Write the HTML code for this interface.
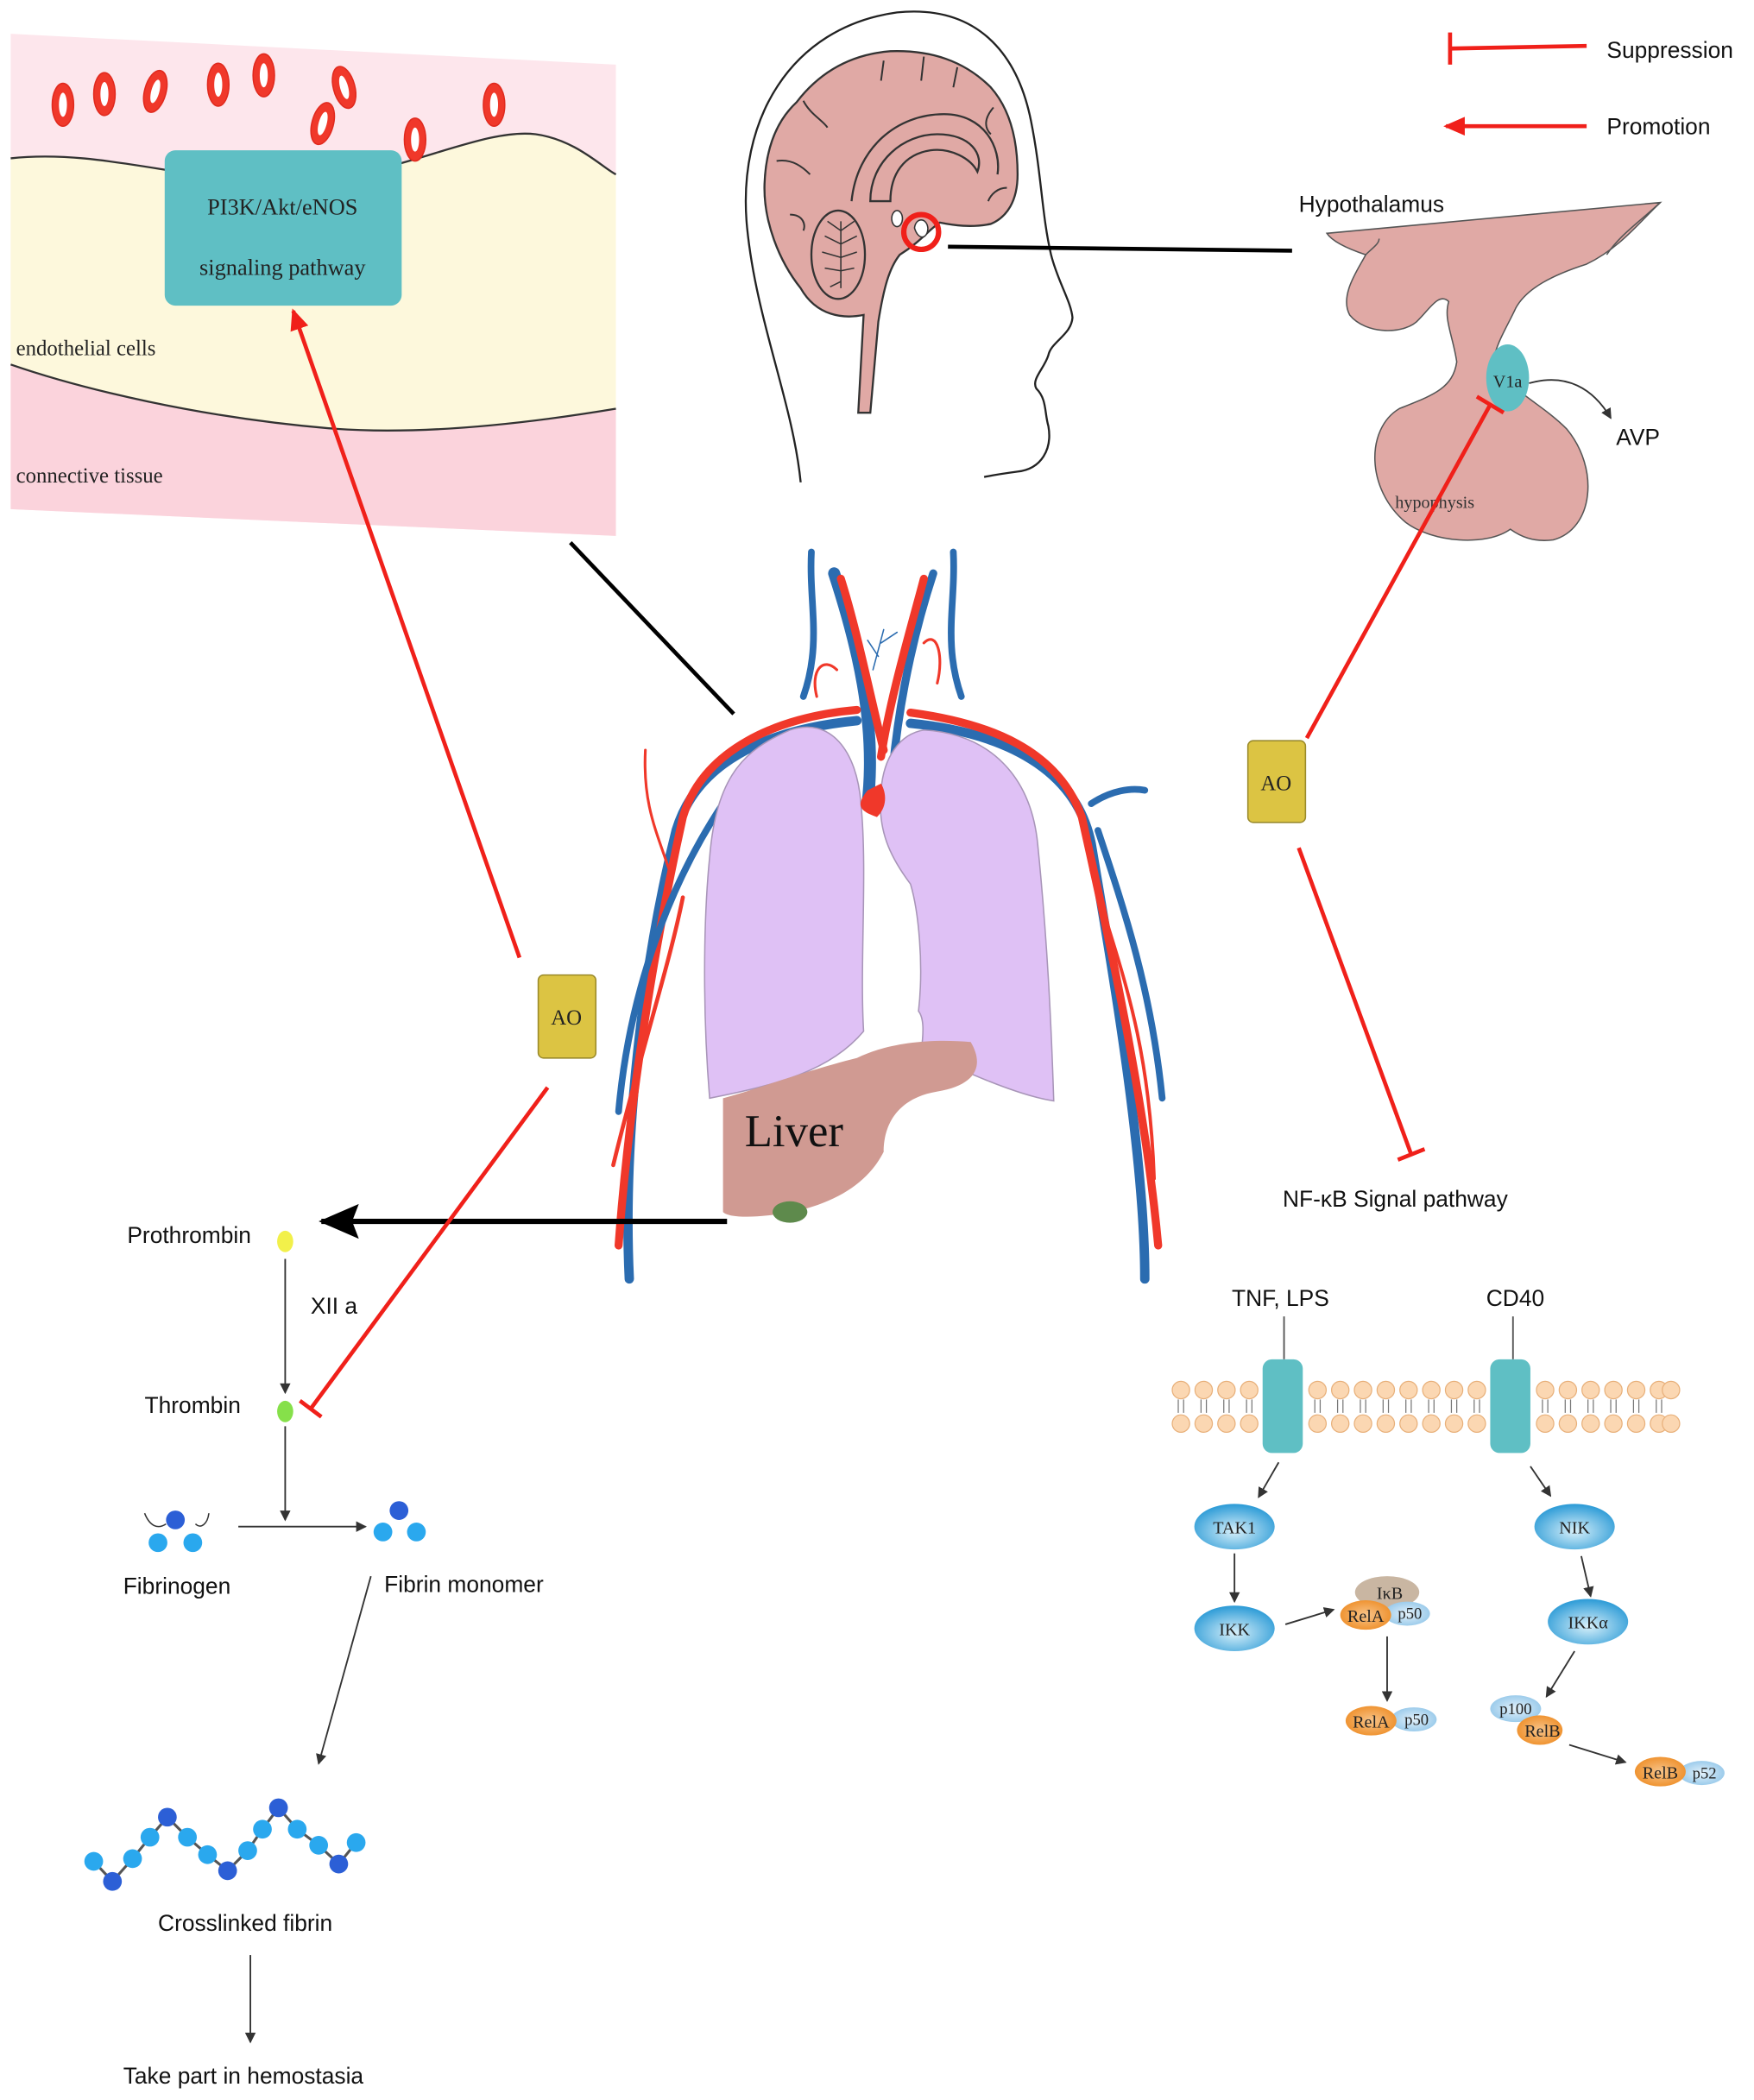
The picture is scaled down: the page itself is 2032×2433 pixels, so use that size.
<!DOCTYPE html>
<html><head><meta charset="utf-8"><style>
html,body{margin:0;padding:0;background:#fff;}
svg{display:block;}
text{font-family:"Liberation Sans",sans-serif;}
.s{font-family:"Liberation Serif",serif;}
</style></head><body>
<svg width="2032" height="2433" viewBox="0 0 1310 1568" xmlns="http://www.w3.org/2000/svg">
<defs>
<marker id="ar" markerWidth="8" markerHeight="8" refX="7" refY="4" orient="auto" markerUnits="userSpaceOnUse"><path d="M0,0 L8,4 L0,8 z" fill="#333"/></marker>
<marker id="arR" markerWidth="16" markerHeight="14" refX="14" refY="7" orient="auto" markerUnits="userSpaceOnUse"><path d="M0,0 L16,7 L0,14 z" fill="#f0201a"/></marker>
<marker id="arB" markerWidth="30" markerHeight="26" refX="28" refY="13" orient="auto" markerUnits="userSpaceOnUse"><path d="M0,0 L30,13 L0,26 L5,13 z" fill="#000"/></marker>
<radialGradient id="bl" cx="50%" cy="60%" r="60%"><stop offset="0" stop-color="#d8f0fa"/><stop offset="1" stop-color="#2a9ad6"/></radialGradient>
<radialGradient id="or" cx="50%" cy="50%" r="60%"><stop offset="0" stop-color="#f7c48a"/><stop offset="1" stop-color="#ee8a20"/></radialGradient>
<radialGradient id="lb" cx="50%" cy="50%" r="60%"><stop offset="0" stop-color="#e4f2fb"/><stop offset="1" stop-color="#8ec4e8"/></radialGradient>
</defs>

<!-- top-left tissue panel -->
<path d="M8,25 L460,48 L460,400 L8,380 Z" fill="#fde6ec"/>
<path d="M8,118 C80,110 150,140 230,135 C300,130 360,95 400,100 C430,104 450,125 460,130 L460,305 C400,315 320,325 250,320 C150,312 60,290 8,272 Z" fill="#fdf8dc"/>
<path d="M8,118 C80,110 150,140 230,135 C300,130 360,95 400,100 C430,104 450,125 460,130" fill="none" stroke="#333" stroke-width="1.5"/>
<path d="M8,272 C60,290 150,312 250,320 C320,325 400,315 460,305 L460,400 L8,380 Z" fill="#fbd3dc"/>
<path d="M8,272 C60,290 150,312 250,320 C320,325 400,315 460,305" fill="none" stroke="#333" stroke-width="1.5"/>
<g fill="#f0382a" stroke="#e02a1e">
<ellipse cx="47" cy="78" rx="8" ry="16"/><ellipse cx="78" cy="70" rx="8" ry="16"/><ellipse cx="116" cy="68" rx="8" ry="16" transform="rotate(15 116 68)"/><ellipse cx="163" cy="63" rx="8" ry="16"/><ellipse cx="197" cy="56" rx="8" ry="16"/><ellipse cx="257" cy="65" rx="8" ry="16" transform="rotate(-15 257 65)"/><ellipse cx="241" cy="92" rx="8" ry="16" transform="rotate(15 241 92)"/><ellipse cx="310" cy="104" rx="8" ry="16"/><ellipse cx="369" cy="78" rx="8" ry="16"/>
</g>
<g fill="#fff">
<ellipse cx="47" cy="78" rx="3" ry="9"/><ellipse cx="78" cy="70" rx="3" ry="9"/><ellipse cx="116" cy="68" rx="3" ry="9" transform="rotate(15 116 68)"/><ellipse cx="163" cy="63" rx="3" ry="9"/><ellipse cx="197" cy="56" rx="3" ry="9"/><ellipse cx="257" cy="65" rx="3" ry="9" transform="rotate(-15 257 65)"/><ellipse cx="241" cy="92" rx="3" ry="9" transform="rotate(15 241 92)"/><ellipse cx="310" cy="104" rx="3" ry="9"/><ellipse cx="369" cy="78" rx="3" ry="9"/>
</g>
<rect x="123" y="112" width="177" height="116" rx="8" fill="#5fbfc4"/>
<text x="211" y="160" class="s" font-size="17" text-anchor="middle" fill="#222">PI3K/Akt/eNOS</text>
<text x="211" y="205" class="s" font-size="17" text-anchor="middle" fill="#222">signaling pathway</text>
<text x="12" y="265" class="s" font-size="16" fill="#222">endothelial cells</text>
<text x="12" y="360" class="s" font-size="16" fill="#222">connective tissue</text>

<!-- head -->
<path d="M598,360 C592,300 565,240 558,170 C550,90 590,20 670,9 C730,3 760,40 770,90 C778,130 778,160 785,190 C790,210 800,225 801,237 C800,250 785,255 783,265 C780,275 770,283 774,290 C782,298 780,308 783,318 C786,335 778,350 760,352 C745,354 735,356 735,356" fill="none" stroke="#222" stroke-width="1.5"/>
<!-- brain -->
<path d="M650,308 L641,308 L645,235 C630,238 610,236 598,215 C582,195 570,165 571,137 C572,110 580,90 595,76 C615,50 640,40 665,38 C695,37 720,45 740,65 C755,82 760,105 760,130 C760,150 752,162 740,167 C725,170 712,168 702,166 C695,170 688,180 672,190 C664,200 660,215 656,240 Z" fill="#e0a9a5" stroke="#333" stroke-width="1.5"/>
<ellipse cx="626" cy="190" rx="20" ry="33" fill="#e0a9a5" stroke="#333" stroke-width="1.5"/>
<path d="M628,165 L628,215 M628,172 L618,165 M628,172 L638,165 M628,182 L616,176 M628,182 L640,176 M628,192 L614,188 M628,192 L640,188 M628,202 L616,200 M628,202 L638,200 M628,210 L620,214" stroke="#333" stroke-width="1" fill="none"/>
<path d="M636,150 C640,110 670,85 705,85 C735,85 748,110 745,130 M650,150 C650,120 675,100 700,100 C725,100 735,115 730,128 C725,118 710,110 695,112 C675,115 665,130 665,150 Z" fill="none" stroke="#333" stroke-width="1.5"/>
<path d="M660,45 L658,60 M690,42 L688,60 M715,50 L712,65 M600,75 C605,85 615,90 618,95 M580,120 C592,118 600,125 605,130 M742,80 C735,88 735,95 740,100 M752,140 C745,140 740,145 738,150 M590,160 C600,160 602,168 600,172" fill="none" stroke="#333" stroke-width="1.3"/>
<ellipse cx="670" cy="163" rx="4" ry="6" fill="#fff" stroke="#333"/>
<circle cx="688" cy="173" r="13" fill="none" stroke="#f0201a" stroke-width="4"/>
<path d="M683,170 C684,162 692,162 693,170 C693,178 686,180 683,170 Z" fill="#fff" stroke="#333"/>
<line x1="708" y1="184" x2="965" y2="187" stroke="#000" stroke-width="3"/>

<!-- hypothalamus / pituitary -->
<text x="970" y="158" font-size="17" fill="#111">Hypothalamus</text>
<path d="M991,174 L1240,151 C1225,165 1210,185 1185,197 C1160,205 1140,215 1132,230 C1125,245 1118,255 1115,270 C1125,290 1150,300 1170,320 C1195,350 1190,395 1160,403 C1145,405 1135,400 1128,395 C1110,408 1070,405 1050,390 C1020,365 1020,320 1045,305 C1070,295 1085,290 1088,270 C1085,250 1078,238 1082,225 C1075,218 1068,230 1060,238 C1050,250 1020,250 1008,235 C1000,220 1015,200 1020,190 C1005,185 995,180 991,174 Z" fill="#e0a9a5" stroke="#555" stroke-width="1"/>
<path d="M1020,190 C1025,185 1030,182 1030,178 M1200,190 C1210,175 1225,165 1240,151" fill="none" stroke="#555"/>
<ellipse cx="1126" cy="282" rx="16" ry="25" fill="#5fbfc4"/>
<text x="1126" y="289" class="s" font-size="13" text-anchor="middle" fill="#222">V1a</text>
<path d="M1142,286 C1170,278 1190,290 1203,312" fill="none" stroke="#333" stroke-width="1.2" marker-end="url(#ar)"/>
<text x="1207" y="332" font-size="17" fill="#111">AVP</text>
<text x="1042" y="379" class="s" font-size="13" fill="#333">hypophysis</text>

<!-- legend -->
<line x1="1083" y1="36" x2="1185" y2="34" stroke="#f0201a" stroke-width="3"/>
<line x1="1083" y1="24" x2="1083" y2="48" stroke="#f0201a" stroke-width="3"/>
<text x="1200" y="43" font-size="17" fill="#111">Suppression</text>
<line x1="1185" y1="94" x2="1080" y2="94" stroke="#f0201a" stroke-width="3" marker-end="url(#arR)"/>
<text x="1200" y="100" font-size="17" fill="#111">Promotion</text>

<!-- right AO -->
<rect x="932" y="553" width="43" height="61" rx="4" fill="#dcc443" stroke="#9a8a2a"/>
<text x="953" y="590" class="s" font-size="16" text-anchor="middle" fill="#222">AO</text>
<line x1="976" y1="551" x2="1113" y2="302" stroke="#f0201a" stroke-width="3"/>
<line x1="1103" y1="296" x2="1123" y2="308" stroke="#f0201a" stroke-width="3"/>
<line x1="970" y1="633" x2="1054" y2="862" stroke="#f0201a" stroke-width="3"/>
<line x1="1044" y1="866" x2="1064" y2="858" stroke="#f0201a" stroke-width="3"/>
<text x="958" y="901" font-size="17" fill="#111">NF-κB Signal pathway</text>

<!-- thorax vessels -->
<g fill="none" stroke-linecap="round">
<path d="M606,412 C604,450 614,480 600,520" stroke="#2b6cb0" stroke-width="5"/>
<path d="M712,412 C714,450 704,480 718,520" stroke="#2b6cb0" stroke-width="5"/>
<path d="M623,428 C640,480 655,540 648,600" stroke="#2b6cb0" stroke-width="9"/>
<path d="M697,428 C680,480 668,540 665,600" stroke="#2b6cb0" stroke-width="6"/>
<path d="M628,432 C640,470 650,520 660,560" stroke="#f0382a" stroke-width="6"/>
<path d="M690,432 C680,470 665,520 658,565" stroke="#f0382a" stroke-width="6"/>
<path d="M610,520 C605,500 615,490 625,500 M690,480 C700,470 705,490 700,510" stroke="#f0382a" stroke-width="2"/>
<path d="M470,955 C465,850 480,720 505,620 C520,570 570,545 640,538" stroke="#2b6cb0" stroke-width="7"/>
<path d="M462,930 C470,820 490,700 510,610 C525,560 580,535 640,530" stroke="#f0382a" stroke-width="6"/>
<path d="M462,830 C470,740 500,660 540,600" stroke="#2b6cb0" stroke-width="5"/>
<path d="M458,870 C480,780 500,720 510,670" stroke="#f0382a" stroke-width="3"/>
<path d="M500,650 C490,620 480,600 482,560" stroke="#f0382a" stroke-width="2"/>
<path d="M855,955 C855,860 830,720 815,630 C805,580 760,548 680,540" stroke="#2b6cb0" stroke-width="7"/>
<path d="M865,930 C855,820 828,700 808,610 C790,560 740,540 680,532" stroke="#f0382a" stroke-width="6"/>
<path d="M868,820 C860,740 840,680 820,620 M815,600 C830,590 845,588 855,590" stroke="#2b6cb0" stroke-width="5"/>
<path d="M815,650 C835,720 858,770 862,880" stroke="#f0382a" stroke-width="2.5"/>
<path d="M652,500 L660,470 M656,490 L648,478 M658,480 L670,472" stroke="#2b6cb0" stroke-width="1"/>
</g>
<!-- lungs -->
<path d="M590,545 C620,535 640,560 643,600 C648,650 642,720 645,770 C620,800 580,810 530,820 C525,760 525,690 530,640 C535,580 555,560 590,545 Z" fill="#dfc1f5" stroke="#a895b8" stroke-width="1"/>
<path d="M690,545 C740,548 770,580 775,630 C782,700 785,760 787,822 C760,818 720,800 688,785 C690,770 690,760 686,755 C690,720 686,680 680,660 C665,640 655,620 658,590 C660,565 672,548 690,545 Z" fill="#dfc1f5" stroke="#a895b8" stroke-width="1"/>
<path d="M648,590 C640,600 640,605 655,610 C665,600 660,588 658,585 Z" fill="#f0382a"/>
<!-- liver -->
<path d="M540,820 C560,815 600,800 640,790 C660,780 690,775 725,778 C735,795 730,810 700,815 C670,820 660,840 660,860 C650,880 630,895 600,903 C570,910 545,910 540,905 Z" fill="#d09a92"/>
<ellipse cx="590" cy="905" rx="13" ry="8" fill="#5e8a4c"/>
<text x="593" y="856" class="s" font-size="34" text-anchor="middle" fill="#111">Liver</text>

<!-- left connectors -->
<line x1="426" y1="405" x2="548" y2="533" stroke="#000" stroke-width="3"/>
<line x1="543" y1="912" x2="240" y2="912" stroke="#000" stroke-width="4" marker-end="url(#arB)"/>
<rect x="402" y="728" width="43" height="62" rx="4" fill="#dcc443" stroke="#9a8a2a"/>
<text x="423" y="765" class="s" font-size="16" text-anchor="middle" fill="#222">AO</text>
<line x1="388" y1="715" x2="219" y2="232" stroke="#f0201a" stroke-width="3" marker-end="url(#arR)"/>
<line x1="409" y1="812" x2="232" y2="1052" stroke="#f0201a" stroke-width="3"/>
<line x1="224" y1="1046" x2="240" y2="1058" stroke="#f0201a" stroke-width="3"/>

<!-- coagulation -->
<text x="95" y="928" font-size="17" fill="#111">Prothrombin</text>
<ellipse cx="213" cy="927" rx="6" ry="8" fill="#f2f04a"/>
<line x1="213" y1="940" x2="213" y2="1040" stroke="#333" stroke-width="1.2" marker-end="url(#ar)"/>
<text x="232" y="981" font-size="17" fill="#111">XII a</text>
<text x="108" y="1055" font-size="17" fill="#111">Thrombin</text>
<ellipse cx="213" cy="1054" rx="6" ry="8" fill="#86e04a"/>
<line x1="213" y1="1065" x2="213" y2="1135" stroke="#333" stroke-width="1.2" marker-end="url(#ar)"/>
<path d="M108,1130 C112,1140 118,1142 124,1138 M146,1138 C150,1142 155,1138 156,1130" stroke="#333" fill="none"/>
<circle cx="131" cy="1135" r="7" fill="#2c5fd6"/><circle cx="118" cy="1152" r="7" fill="#2aa8ee"/><circle cx="144" cy="1152" r="7" fill="#2aa8ee"/>
<text x="92" y="1190" font-size="17" fill="#111">Fibrinogen</text>
<line x1="178" y1="1140" x2="273" y2="1140" stroke="#333" stroke-width="1.2" marker-end="url(#ar)"/>
<circle cx="298" cy="1128" r="7" fill="#2c5fd6"/><circle cx="286" cy="1144" r="7" fill="#2aa8ee"/><circle cx="311" cy="1144" r="7" fill="#2aa8ee"/>
<text x="287" y="1189" font-size="17" fill="#111">Fibrin monomer</text>
<line x1="277" y1="1177" x2="238" y2="1317" stroke="#333" stroke-width="1.2" marker-end="url(#ar)"/>
<polyline points="70,1390 84,1405 99,1388 112,1372 125,1357 140,1372 155,1385 170,1397 185,1382 196,1366 208,1350 222,1366 238,1378 253,1392 266,1376" fill="none" stroke="#555" stroke-width="2"/>
<g fill="#2aa8ee"><circle cx="70" cy="1390" r="7"/><circle cx="99" cy="1388" r="7"/><circle cx="112" cy="1372" r="7"/><circle cx="140" cy="1372" r="7"/><circle cx="155" cy="1385" r="7"/><circle cx="185" cy="1382" r="7"/><circle cx="196" cy="1366" r="7"/><circle cx="222" cy="1366" r="7"/><circle cx="238" cy="1378" r="7"/><circle cx="266" cy="1376" r="7"/></g>
<g fill="#2c5fd6"><circle cx="84" cy="1405" r="7"/><circle cx="125" cy="1357" r="7"/><circle cx="170" cy="1397" r="7"/><circle cx="208" cy="1350" r="7"/><circle cx="253" cy="1392" r="7"/></g>
<text x="118" y="1442" font-size="17" fill="#111">Crosslinked fibrin</text>
<line x1="187" y1="1460" x2="187" y2="1525" stroke="#333" stroke-width="1.2" marker-end="url(#ar)"/>
<text x="92" y="1556" font-size="17" fill="#111">Take part in hemostasia</text>

<!-- NF-kB -->
<text x="920" y="975" font-size="17" fill="#111">TNF, LPS</text>
<text x="1110" y="975" font-size="17" fill="#111">CD40</text>
<line x1="959" y1="983" x2="959" y2="1015" stroke="#555" stroke-width="1.2"/>
<line x1="1130" y1="983" x2="1130" y2="1015" stroke="#555" stroke-width="1.2"/>
<g fill="#fbd7b2" stroke="#e8b07a" stroke-width="0.8">
<circle cx="882" cy="1038" r="6.5"/><circle cx="899" cy="1038" r="6.5"/><circle cx="916" cy="1038" r="6.5"/><circle cx="933" cy="1038" r="6.5"/><circle cx="984" cy="1038" r="6.5"/><circle cx="1001" cy="1038" r="6.5"/><circle cx="1018" cy="1038" r="6.5"/><circle cx="1035" cy="1038" r="6.5"/><circle cx="1052" cy="1038" r="6.5"/><circle cx="1069" cy="1038" r="6.5"/><circle cx="1086" cy="1038" r="6.5"/><circle cx="1103" cy="1038" r="6.5"/><circle cx="1154" cy="1038" r="6.5"/><circle cx="1171" cy="1038" r="6.5"/><circle cx="1188" cy="1038" r="6.5"/><circle cx="1205" cy="1038" r="6.5"/><circle cx="1222" cy="1038" r="6.5"/><circle cx="1239" cy="1038" r="6.5"/><circle cx="1248" cy="1038" r="6.5"/>
<circle cx="882" cy="1063" r="6.5"/><circle cx="899" cy="1063" r="6.5"/><circle cx="916" cy="1063" r="6.5"/><circle cx="933" cy="1063" r="6.5"/><circle cx="984" cy="1063" r="6.5"/><circle cx="1001" cy="1063" r="6.5"/><circle cx="1018" cy="1063" r="6.5"/><circle cx="1035" cy="1063" r="6.5"/><circle cx="1052" cy="1063" r="6.5"/><circle cx="1069" cy="1063" r="6.5"/><circle cx="1086" cy="1063" r="6.5"/><circle cx="1103" cy="1063" r="6.5"/><circle cx="1154" cy="1063" r="6.5"/><circle cx="1171" cy="1063" r="6.5"/><circle cx="1188" cy="1063" r="6.5"/><circle cx="1205" cy="1063" r="6.5"/><circle cx="1222" cy="1063" r="6.5"/><circle cx="1239" cy="1063" r="6.5"/><circle cx="1248" cy="1063" r="6.5"/>
</g>
<path d="M880,1045v10M884,1045v10M897,1045v10M901,1045v10M914,1045v10M918,1045v10M931,1045v10M935,1045v10M982,1045v10M986,1045v10M999,1045v10M1003,1045v10M1016,1045v10M1020,1045v10M1033,1045v10M1037,1045v10M1050,1045v10M1054,1045v10M1067,1045v10M1071,1045v10M1084,1045v10M1088,1045v10M1101,1045v10M1105,1045v10M1152,1045v10M1156,1045v10M1169,1045v10M1173,1045v10M1186,1045v10M1190,1045v10M1203,1045v10M1207,1045v10M1220,1045v10M1224,1045v10M1237,1045v10M1241,1045v10" stroke="#777" stroke-width="0.8"/>
<rect x="943" y="1015" width="30" height="70" rx="7" fill="#5fbfc4"/>
<rect x="1113" y="1015" width="30" height="70" rx="7" fill="#5fbfc4"/>
<g stroke="#333" stroke-width="1.2" marker-end="url(#ar)">
<line x1="955" y1="1092" x2="940" y2="1118"/>
<line x1="1143" y1="1095" x2="1158" y2="1117"/>
<line x1="922" y1="1160" x2="922" y2="1196"/>
<line x1="960" y1="1213" x2="996" y2="1202"/>
<line x1="1036" y1="1222" x2="1036" y2="1270"/>
<line x1="1181" y1="1162" x2="1188" y2="1192"/>
<line x1="1176" y1="1233" x2="1155" y2="1267"/>
<line x1="1172" y1="1303" x2="1214" y2="1316"/>
</g>
<ellipse cx="922" cy="1140" rx="30" ry="17" fill="url(#bl)"/><text x="922" y="1145" class="s" font-size="13" text-anchor="middle" fill="#222">TAK1</text>
<ellipse cx="922" cy="1216" rx="30" ry="17" fill="url(#bl)"/><text x="922" y="1221" class="s" font-size="13" text-anchor="middle" fill="#222">IKK</text>
<ellipse cx="1176" cy="1140" rx="30" ry="17" fill="url(#bl)"/><text x="1176" y="1145" class="s" font-size="13" text-anchor="middle" fill="#222">NIK</text>
<ellipse cx="1186" cy="1211" rx="30" ry="17" fill="url(#bl)"/><text x="1186" y="1216" class="s" font-size="13" text-anchor="middle" fill="#222">IKKα</text>
<ellipse cx="1036" cy="1189" rx="24" ry="12" fill="#c9b6a2"/><text x="1038" y="1194" class="s" font-size="13" text-anchor="middle" fill="#222">IκB</text>
<ellipse cx="1051" cy="1205" rx="17" ry="9" fill="url(#lb)"/><text x="1053" y="1209" class="s" font-size="12" text-anchor="middle" fill="#222">p50</text>
<ellipse cx="1020" cy="1206" rx="19" ry="11" fill="url(#or)"/><text x="1020" y="1211" class="s" font-size="13" text-anchor="middle" fill="#222">RelA</text>
<ellipse cx="1056" cy="1284" rx="17" ry="9" fill="url(#lb)"/><text x="1058" y="1288" class="s" font-size="12" text-anchor="middle" fill="#222">p50</text>
<ellipse cx="1024" cy="1285" rx="19" ry="11" fill="url(#or)"/><text x="1024" y="1290" class="s" font-size="13" text-anchor="middle" fill="#222">RelA</text>
<ellipse cx="1132" cy="1276" rx="19" ry="10" fill="url(#lb)"/><text x="1132" y="1280" class="s" font-size="12" text-anchor="middle" fill="#222">p100</text>
<ellipse cx="1150" cy="1292" rx="17" ry="11" fill="url(#or)"/><text x="1152" y="1297" class="s" font-size="13" text-anchor="middle" fill="#222">RelB</text>
<ellipse cx="1271" cy="1324" rx="17" ry="9" fill="url(#lb)"/><text x="1273" y="1328" class="s" font-size="12" text-anchor="middle" fill="#222">p52</text>
<ellipse cx="1240" cy="1323" rx="19" ry="11" fill="url(#or)"/><text x="1240" y="1328" class="s" font-size="13" text-anchor="middle" fill="#222">RelB</text>
</svg>
</body></html>
